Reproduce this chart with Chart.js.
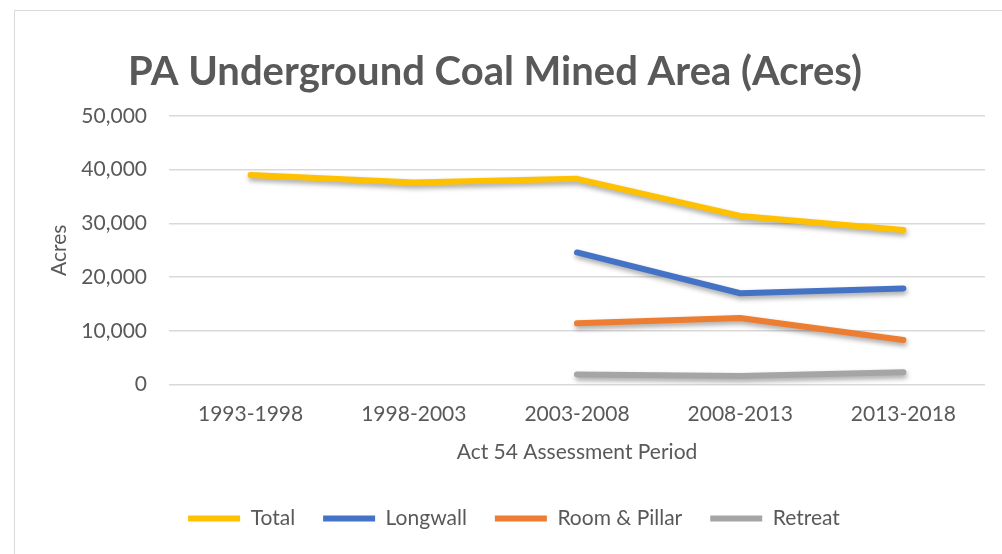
<!DOCTYPE html>
<html>
<head>
<meta charset="utf-8">
<script src="https://cdn.jsdelivr.net/npm/chart.js@4"></script>
<style>
  body { margin: 0; background: #fff; }
  #wrap { width: 1002px; height: 554px; position: relative; }
</style>
</head>
<body>
<div id="wrap"><canvas id="myChart" width="1002" height="554"></canvas></div>
<script>
"use strict";

var periods = ['1993-1998', '1998-2003', '2003-2008', '2008-2013', '2013-2018'];
var total = [39000, 37600, 38300, 31400, 28800];
var longwall = [null, null, 24600, 17000, 17900];
var roomPillar = [null, null, 11400, 12400, 8300];
var retreat = [null, null, 1900, 1600, 2300];
var yTicks = [0, 10000, 20000, 30000, 40000, 50000];
var chartTitle = 'PA Underground Coal Mined Area (Acres)';

var fontFam = 'Lato, "Open Sans", sans-serif';
var grey = '#595959';

// outer frame, title centred on the frame, soft line shadow like the Excel original
var framePlugin = {
    id: 'frame',
    beforeDraw: function(chart) {
        var ctx = chart.ctx;
        ctx.save();
        ctx.fillStyle = '#fff';
        ctx.fillRect(0, 0, chart.width, chart.height);
        ctx.strokeStyle = '#d9d9d9';
        ctx.lineWidth = 1;
        ctx.strokeRect(14.5, 10.5, chart.width, chart.height);
        ctx.restore();
    },
    beforeDatasetsDraw: function(chart) {
        var ctx = chart.ctx;
        ctx.save();
        ctx.shadowColor = 'rgba(0,0,0,0.35)';
        ctx.shadowBlur = 5;
        ctx.shadowOffsetX = 1;
        ctx.shadowOffsetY = 3;
    },
    afterDatasetsDraw: function(chart) {
        chart.ctx.restore();
    },
    afterDraw: function(chart) {
        var ctx = chart.ctx;
        ctx.save();
        ctx.fillStyle = grey;
        ctx.font = 'bold 40px ' + fontFam;
        ctx.textAlign = 'center';
        ctx.textBaseline = 'middle';
        ctx.fillText(chartTitle, 495, 72);
        ctx.restore();
    }
};

function series(label, data, color) {
    return {
        label: label,
        data: data,
        borderColor: color,
        backgroundColor: color,
        borderWidth: 6,
        borderCapStyle: 'round',
        borderJoinStyle: 'round',
        pointRadius: 0,
        pointHoverRadius: 0,
        pointStyle: 'line',
        tension: 0,
        spanGaps: false
    };
}

var ctx = document.getElementById('myChart').getContext('2d');

var myChart = new Chart(ctx, {
    type: 'line',
    data: {
        labels: periods,
        datasets: [
            series('Total', total, '#FFC000'),
            series('Longwall', longwall, '#4472C4'),
            series('Room & Pillar', roomPillar, '#ED7D31'),
            series('Retreat', retreat, '#A5A5A5')
        ]
    },
    options: {
        responsive: false,
        animation: false,
        layout: { padding: { left: 43, right: 17, top: 116, bottom: 15 } },
        plugins: {
            tooltip: { enabled: false },
            title: { display: false },
            legend: {
                position: 'bottom',
                labels: {
                    usePointStyle: true,
                    pointStyleWidth: 52,
                    boxHeight: 6,
                    padding: 28,
                    color: grey,
                    font: { family: fontFam, size: 21 }
                }
            }
        },
        scales: {
            x: {
                offset: true,
                grid: { display: false, drawTicks: false },
                border: { display: false },
                ticks: { color: grey, font: { family: fontFam, size: 21 }, padding: 17 },
                title: {
                    display: true,
                    text: 'Act 54 Assessment Period',
                    color: grey,
                    font: { family: fontFam, size: 21 },
                    padding: { top: -4, bottom: 15 }
                }
            },
            y: {
                min: 0,
                max: 50000,
                afterBuildTicks: function(axis) {
                    axis.ticks = yTicks.map(function(v) { return { value: v }; });
                },
                afterFit: function(axis) {
                    axis.width = 126;
                },
                grid: { color: '#d9d9d9', lineWidth: 1.5, drawTicks: false },
                border: { display: false },
                ticks: {
                    color: grey,
                    padding: 22,
                    font: { family: fontFam, size: 21 },
                    callback: function(v) { return v.toLocaleString('en-US'); }
                },
                title: {
                    display: true,
                    text: 'Acres',
                    color: grey,
                    font: { family: fontFam, size: 21 },
                    padding: { top: 4, bottom: 4 }
                }
            }
        }
    },
    plugins: [framePlugin]
});
</script>
</body>
</html>
